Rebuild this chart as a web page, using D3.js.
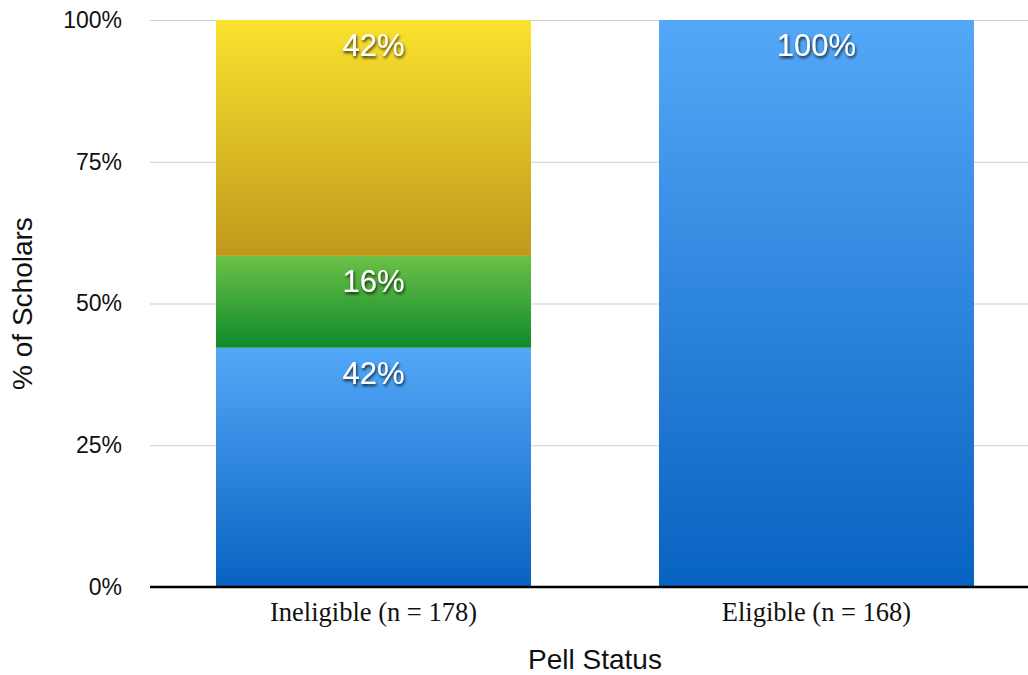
<!DOCTYPE html>
<html>
<head>
<meta charset="utf-8">
<script src="https://cdn.jsdelivr.net/npm/d3@7"></script>
<style>
  html, body { margin: 0; padding: 0; background: #fff; }
  svg { display: block; }
</style>
</head>
<body>
<svg id="chart" width="1028" height="675"></svg>
<script>
const CATEGORIES = ['Ineligible (n = 178)', 'Eligible (n = 168)'];
const SERIES = ['Blue', 'Green', 'Yellow'];
const BLUE_VALUES = [42.2, 100];
const GREEN_VALUES = [16.2, 0];
const YELLOW_VALUES = [41.6, 0];
const Y_TICKS = [0, 25, 50, 75, 100];

const COLORS = {
  Blue: ['#54a8f8', '#0862c0'],
  Green: ['#6cc147', '#0d8a2a'],
  Yellow: ['#fae22e', '#bf981b'],
};

const svg = d3.select('#chart');
const W = 1028;
const H = 675;
const margin = { top: 20, right: 0, bottom: 88, left: 150 };

const rows = CATEGORIES.map((c, i) => ({
  cat: c,
  Blue: BLUE_VALUES[i],
  Green: GREEN_VALUES[i],
  Yellow: YELLOW_VALUES[i],
}));
const stacked = d3.stack().keys(SERIES)(rows);

const x = d3.scaleBand()
  .domain(CATEGORIES)
  .range([152, 1038])
  .paddingInner(0.289)
  .paddingOuter(0.1445);

const y = d3.scaleLinear().domain([0, 100]).range([H - margin.bottom, margin.top]);

const defs = svg.append('defs');
SERIES.forEach(s => {
  const grad = defs.append('linearGradient')
    .attr('id', `grad-${s}`)
    .attr('x1', 0).attr('y1', 0).attr('x2', 0).attr('y2', 1);
  grad.append('stop').attr('offset', '0%').attr('stop-color', COLORS[s][0]);
  grad.append('stop').attr('offset', '100%').attr('stop-color', COLORS[s][1]);
});
const shadow = defs.append('filter').attr('id', 'txt-shadow')
  .attr('x', '-20%').attr('y', '-30%').attr('width', '140%').attr('height', '160%');
shadow.append('feDropShadow')
  .attr('dx', 1).attr('dy', 2).attr('stdDeviation', 1.4)
  .attr('flood-color', '#000').attr('flood-opacity', 0.8);

// grid
svg.append('g')
  .attr('transform', `translate(${margin.left},0)`)
  .call(d3.axisLeft(y).tickValues(Y_TICKS).tickSize(-(W - margin.left)).tickFormat(''))
  .call(a => a.select('.domain').remove())
  .call(a => a.selectAll('line').attr('stroke', '#cfcfcf').attr('stroke-width', 1));

// y tick labels
svg.append('g')
  .attr('transform', `translate(${margin.left},0)`)
  .call(d3.axisLeft(y).tickValues(Y_TICKS).tickSize(0).tickPadding(28).tickFormat(d => `${d}%`))
  .call(a => a.select('.domain').remove())
  .call(a => a.selectAll('text')
    .attr('font-family', 'Liberation Sans, Arial, sans-serif')
    .attr('font-size', 23)
    .attr('fill', '#111'));

// bars
svg.append('g').selectAll('g').data(stacked).join('g')
  .attr('fill', d => `url(#grad-${d.key})`)
  .selectAll('rect').data(d => d.filter(p => p[1] > p[0])).join('rect')
  .attr('x', d => x(d.data.cat))
  .attr('width', x.bandwidth())
  .attr('y', d => y(d[1]))
  .attr('height', d => y(d[0]) - y(d[1]));

// value labels
const labels = [];
stacked.forEach(layer => {
  layer.forEach(p => {
    if (p[1] > p[0]) labels.push({ cat: p.data.cat, top: p[1], v: p[1] - p[0] });
  });
});
svg.append('g').selectAll('text').data(labels).join('text')
  .attr('x', d => x(d.cat) + x.bandwidth() / 2)
  .attr('y', d => y(d.top) + 36)
  .attr('text-anchor', 'middle')
  .attr('font-family', 'Liberation Sans, Arial, sans-serif')
  .attr('font-size', 31)
  .attr('fill', '#fff')
  .attr('filter', 'url(#txt-shadow)')
  .text(d => `${Math.round(d.v)}%`);

// x axis
svg.append('g')
  .attr('transform', `translate(0,${y(0)})`)
  .call(d3.axisBottom(x).tickSize(0).tickPadding(15))
  .call(a => a.select('.domain').attr('d', `M${margin.left},0H${W}`).attr('stroke', '#000').attr('stroke-width', 2.5))
  .call(a => a.selectAll('text')
    .attr('font-family', 'Liberation Serif, Times New Roman, serif')
    .attr('font-size', 26.5)
    .attr('fill', '#111'));

// axis titles
svg.append('text')
  .attr('x', 595)
  .attr('y', 669)
  .attr('text-anchor', 'middle')
  .attr('font-family', 'Liberation Sans, Arial, sans-serif')
  .attr('font-size', 28)
  .attr('fill', '#111')
  .text('Pell Status');

svg.append('text')
  .attr('transform', `translate(32,${(y(0) + y(100)) / 2}) rotate(-90)`)
  .attr('text-anchor', 'middle')
  .attr('font-family', 'Liberation Sans, Arial, sans-serif')
  .attr('font-size', 28)
  .attr('fill', '#111')
  .text('% of Scholars');
</script>
</body>
</html>
